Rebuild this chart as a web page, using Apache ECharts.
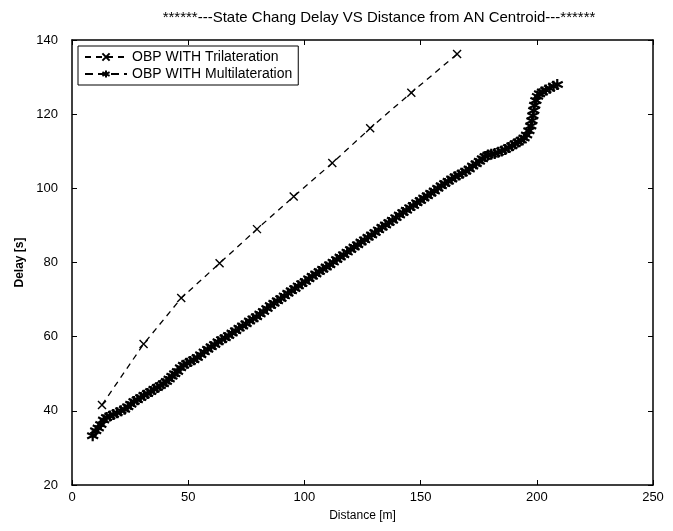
<!DOCTYPE html>
<html>
<head>
<meta charset="utf-8">
<script src="https://cdn.jsdelivr.net/npm/echarts@6/dist/echarts.min.js"></script>
<style>
	html, body { margin: 0; padding: 0; background: #fff; }
	#chart { width: 673px; height: 531px; }
</style>
</head>
<body>
<div id="chart"></div>
<script>
	var titleText = '******---State Chang Delay VS Distance from AN Centroid---******';
	var seriesNames = ['OBP WITH Trilateration', 'OBP WITH Multilateration'];

	// [distance m, delay s]
	var trilateration = [
		[12.9, 41.6], [30.8, 58.0], [47.0, 70.4], [63.5, 79.8], [79.6, 89.0],
		[95.4, 97.8], [112.0, 106.8], [128.3, 116.2], [146.0, 125.8], [165.7, 136.2]
	];

	var multilateration = [
		[8.9, 33.3], [10.2, 34.6], [11.3, 35.4], [12.4, 36.3], [13.6, 37.5],
		[14.9, 38.2], [16.3, 38.6], [17.8, 39.0], [19.4, 39.5], [21.0, 40.0],
		[22.6, 40.4], [24.0, 41.1], [25.3, 41.8], [26.7, 42.5], [28.1, 43.0],
		[29.6, 43.6], [31.0, 44.2], [32.5, 44.7], [33.9, 45.2], [35.3, 45.8],
		[36.7, 46.3], [38.0, 46.8], [39.3, 47.3], [40.6, 47.9], [41.8, 48.6],
		[43.0, 49.3], [44.2, 50.0], [45.4, 50.6], [46.7, 51.6], [48.0, 52.3],
		[49.4, 52.8], [50.9, 53.3], [52.4, 53.8], [53.9, 54.4], [55.4, 55.1],
		[56.9, 55.9], [58.4, 56.6], [59.9, 57.3], [61.4, 57.9], [62.9, 58.6],
		[64.4, 59.2], [65.9, 59.7], [67.4, 60.3], [68.9, 61.0], [70.4, 61.6],
		[71.9, 62.3], [73.4, 62.9], [74.9, 63.5], [76.4, 64.2], [77.9, 64.8],
		[79.4, 65.4], [80.9, 66.1], [82.4, 66.8], [83.9, 67.6], [85.4, 68.4],
		[86.9, 69.0], [88.4, 69.7], [89.9, 70.3], [91.4, 71.0], [92.9, 71.7],
		[94.4, 72.4], [95.9, 73.0], [97.4, 73.7], [98.9, 74.3], [100.4, 74.9],
		[101.9, 75.6], [103.4, 76.3], [104.9, 76.9], [106.4, 77.6], [107.9, 78.2],
		[109.4, 78.8], [110.9, 79.4], [112.4, 80.1], [113.9, 80.8], [115.4, 81.5],
		[116.9, 82.1], [118.4, 82.8], [119.9, 83.5], [121.4, 84.2], [122.9, 84.8],
		[124.4, 85.5], [125.9, 86.1], [127.4, 86.8], [128.9, 87.4], [130.4, 88.1],
		[131.9, 88.8], [133.4, 89.5], [134.9, 90.1], [136.4, 90.8], [137.9, 91.4],
		[139.4, 92.1], [140.9, 92.8], [142.4, 93.5], [143.9, 94.1], [145.4, 94.8],
		[146.9, 95.4], [148.4, 96.1], [149.9, 96.7], [151.4, 97.4], [152.9, 98.0],
		[154.4, 98.7], [155.9, 99.3], [157.4, 100.0], [158.9, 100.7], [160.4, 101.3],
		[161.9, 101.9], [163.4, 102.5], [164.9, 103.1], [166.4, 103.6], [167.9, 104.1],
		[169.4, 104.6], [170.9, 105.2], [172.4, 106.0], [173.9, 106.6], [175.3, 107.3],
		[176.6, 108.0], [177.8, 108.6], [179.0, 109.0], [180.4, 109.2], [181.9, 109.4],
		[183.4, 109.7], [184.9, 110.1], [186.4, 110.5], [187.9, 111.0], [189.3, 111.5],
		[190.7, 112.0], [192.0, 112.5], [193.3, 113.0], [194.5, 113.6], [195.6, 114.4],
		[196.6, 115.5], [197.4, 116.8], [197.9, 118.2], [198.3, 119.6], [198.7, 121.0],
		[199.1, 122.4], [199.6, 123.7], [200.3, 124.8], [201.2, 125.5], [202.4, 126.0],
		[203.9, 126.5], [205.5, 127.0], [207.2, 127.5], [208.8, 128.0]
	];

	var xMin = 0, xMax = 250, xStep = 50;
	var yMin = 20, yMax = 140, yStep = 20;

	var crossSymbol = 'path://M0,0L10,10M10,0L0,10';
	var starSymbol = 'path://M5,0L5,10M0,2.5L10,7.5M0,7.5L10,2.5';

	var font = 'Liberation Sans, Arial, sans-serif';

	function axisBase(extra) {
		var a = {
			axisLine: { show: true, onZero: false, lineStyle: { color: '#000', width: 1.5 } },
			axisTick: { show: true, inside: true, length: 5, lineStyle: { color: '#000' } },
			splitLine: { show: false },
			axisLabel: { color: '#000', fontFamily: font, fontSize: 12 }
		};
		for (var k in extra) a[k] = extra[k];
		return a;
	}

	var chart = echarts.init(document.getElementById('chart'));

	var option = {
		backgroundColor: '#fff',
		animation: false,
		title: {
			text: titleText,
			left: 374,
			textAlign: 'center',
			top: 5,
			textStyle: { color: '#000', fontFamily: font, fontSize: 15, fontWeight: 'normal' }
		},
		legend: {
			left: 78,
			top: 46,
			orient: 'vertical',
			itemWidth: 42,
			itemHeight: 9,
			itemGap: 3,
			padding: [4, 6, 4, 6],
			borderColor: '#000',
			borderWidth: 1,
			backgroundColor: '#fff',
			textStyle: { color: '#000', fontFamily: font, fontSize: 14 },
			data: seriesNames
		},
		grid: { left: 72, right: 20, top: 40, bottom: 46, show: false },
		xAxis: [
			axisBase({
				type: 'value', min: xMin, max: xMax, interval: xStep,
				name: 'Distance [m]', nameLocation: 'middle', nameGap: 25,
				nameTextStyle: { color: '#000', fontFamily: font, fontSize: 12 },
				axisLabel: { color: '#000', fontFamily: font, fontSize: 13, margin: 6 }
			}),
			axisBase({
				type: 'value', min: xMin, max: xMax, interval: xStep, position: 'top',
				axisLabel: { show: false }
			})
		],
		yAxis: [
			axisBase({
				type: 'value', min: yMin, max: yMax, interval: yStep,
				name: 'Delay [s]', nameLocation: 'middle', nameGap: 45,
				nameTextStyle: { color: '#000', fontFamily: font, fontSize: 12, fontWeight: 'bold' },
				axisLabel: { color: '#000', fontFamily: font, fontSize: 13, margin: 14 }
			}),
			axisBase({
				type: 'value', min: yMin, max: yMax, interval: yStep, position: 'right',
				axisLabel: { show: false }
			})
		],
		series: [
			{
				name: seriesNames[0],
				type: 'line',
				data: trilateration,
				symbol: crossSymbol,
				symbolSize: 8,
				showAllSymbol: true,
				lineStyle: { color: '#000', width: 1.3, type: [6, 5] },
				itemStyle: { color: '#000', borderColor: '#000', borderWidth: 1.4 },
				z: 3
			},
			{
				name: seriesNames[1],
				type: 'line',
				data: multilateration,
				symbol: starSymbol,
				symbolSize: 11,
				showAllSymbol: true,
				lineStyle: { color: '#000', width: 1.3, type: [8, 5] },
				itemStyle: { color: '#000', borderColor: '#000', borderWidth: 2.2 },
				z: 2
			}
		]
	};

	chart.setOption(option);
</script>
</body>
</html>
